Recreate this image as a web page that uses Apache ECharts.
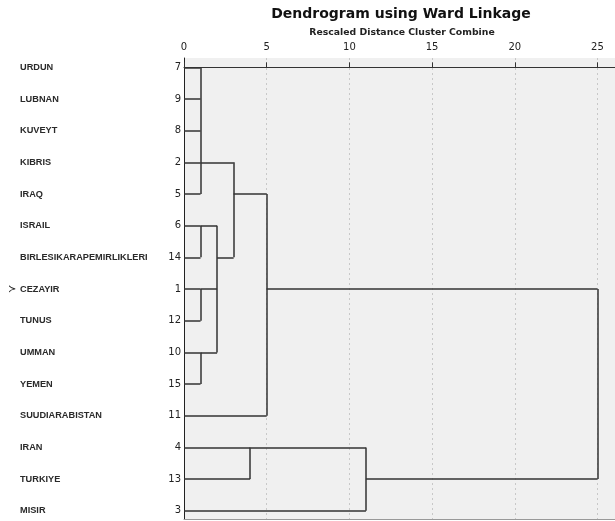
<!DOCTYPE html>
<html><head><meta charset="utf-8">
<script src="https://cdn.jsdelivr.net/npm/echarts@6/dist/echarts.min.js"></script>
<style>html,body{margin:0;padding:0;background:#fff}#c{width:615px;height:521px}</style>
</head><body><div id="c"></div>
<script>
const leafNames = ['URDUN','LUBNAN','KUVEYT','KIBRIS','IRAQ','ISRAIL','BIRLESIKARAPEMIRLIKLERI','CEZAYIR','TUNUS','UMMAN','YEMEN','SUUDIARABISTAN','IRAN','TURKIYE','MISIR'];
const leafNumbers = [7,9,8,2,5,6,14,1,12,10,15,11,4,13,3];
const markedLeaf = 'CEZAYIR';
// merge children: 0-14 = leaf rows, 15+k = merge k
const mergeChildren = [[0,1,2,3,4],[5,6],[7,8],[9,10],[16,17,18],[15,19],[20,11],[12,13],[22,14],[21,23]];
const mergeHeights = [1,1,1,1,2,3,5,4,11,25];
const mergeOutRows = [3,5,7,9,6,4,7,12,13,null];
const xTicks = [0,5,10,15,20,25];

const nLeaf = leafNames.length;
function rowOf(id){ return id < nLeaf ? id : mergeOutRows[id - nLeaf]; }
function xOf(id){ return id < nLeaf ? 0 : mergeHeights[id - nLeaf]; }
const segs = [];
mergeChildren.forEach((ch, k) => {
  const h = mergeHeights[k];
  const rows = ch.map(rowOf);
  ch.forEach(c => segs.push({coords: [[xOf(c), rowOf(c)], [h, rowOf(c)]]}));
  segs.push({coords: [[h, Math.min(...rows)], [h, Math.max(...rows)]]});
});
const leafRows = leafNames.map((_, i) => i);

const chart = echarts.init(document.getElementById('c'), null, {renderer: 'canvas'});
chart.setOption({
  animation: false,
  title: [
    {text: 'Dendrogram using Ward Linkage', left: 396, top: 2, textAlign: 'center',
     textStyle: {fontFamily: 'DejaVu Sans', fontSize: 14, fontWeight: 'bold', color: '#111'}},
    {text: 'Rescaled Distance Cluster Combine', left: 397, top: 23, textAlign: 'center',
     textStyle: {fontFamily: 'DejaVu Sans', fontSize: 9.3, fontWeight: 'bold', color: '#222'}}
  ],
  grid: {left: 184, top: 58, right: 0, bottom: 2, show: true, backgroundColor: '#f0f0f0',
         borderWidth: 0, containLabel: false},
  xAxis: [{
    type: 'value', position: 'top', min: 0, max: 26.06, interval: 5,
    axisLine: {show: true, lineStyle: {color: '#333', width: 1}},
    axisTick: {show: true, length: 5, lineStyle: {color: '#333'}, customValues: xTicks},
    axisLabel: {fontFamily: 'DejaVu Sans', fontSize: 10, color: '#222', margin: 6, customValues: xTicks},
    splitLine: {show: true, lineStyle: {color: '#c8c8c8', type: [2, 3], width: 1}}
  }, {
    type: 'value', position: 'bottom', min: 0, max: 26.06,
    axisLine: {show: true, lineStyle: {color: '#999', width: 1}},
    axisTick: {show: false}, axisLabel: {show: false}, splitLine: {show: false}
  }],
  yAxis: {
    type: 'value', inverse: true, min: -0.294, max: 14.26,
    axisLine: {show: true, lineStyle: {color: '#222', width: 1}},
    axisTick: {show: false},
    splitLine: {show: false},
    axisLabel: {
      customValues: leafRows, margin: 3,
      formatter: v => {
        const i = Math.round(v);
        const m = leafNames[i] === markedLeaf ? '≻' : ' ';
        return '{m|' + m + '}{n|' + leafNames[i] + '}{num|' + leafNumbers[i] + '}';
      },
      rich: {
        m: {width: 12, align: 'left', fontFamily: 'DejaVu Sans', fontSize: 10, color: '#222'},
        n: {width: 141, align: 'left', fontFamily: 'Liberation Sans', fontSize: 9.2, fontWeight: 'bold', color: '#2a2a2a'},
        num: {width: 20, align: 'right', fontFamily: 'DejaVu Sans', fontSize: 10, color: '#222'}
      }
    }
  },
  series: [{
    type: 'lines', coordinateSystem: 'cartesian2d', xAxisIndex: 0, yAxisIndex: 0, polyline: false,
    lineStyle: {color: '#333', width: 1.5, opacity: 1},
    data: segs
  }]
});
</script></body></html>
